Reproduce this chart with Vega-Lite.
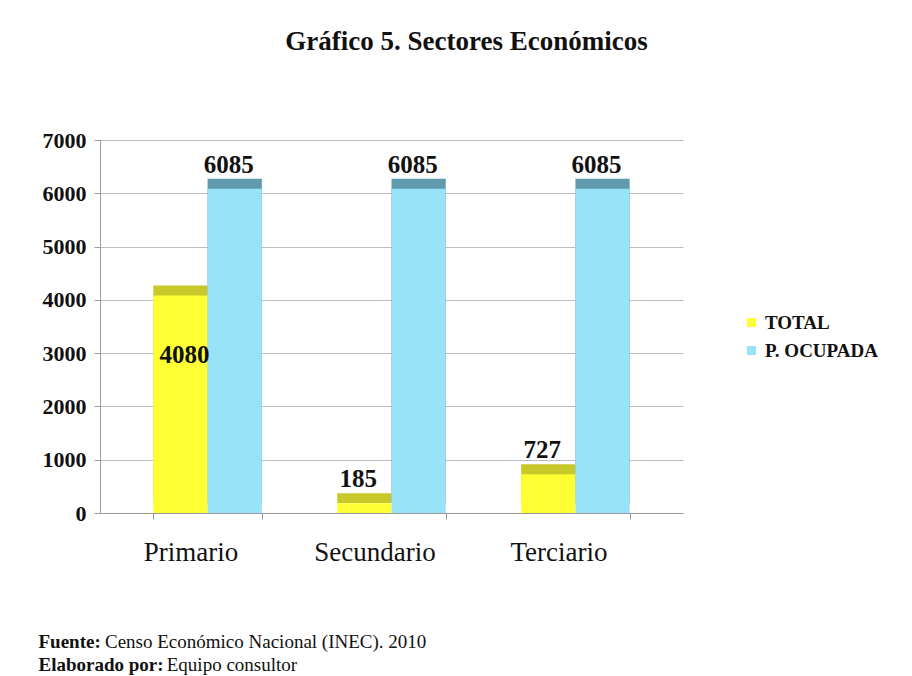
{
  "$schema": "https://vega.github.io/schema/vega-lite/v6.json",
  "width": 583,
  "height": 373,
  "autosize": {"type": "none"},
  "padding": {"left": 100, "top": 140, "right": 229, "bottom": 163},
  "background": "white",
  "config": {
    "view": {"stroke": null},
    "font": "Liberation Serif"
  },
  "title": {
    "text": "Gráfico 5. Sectores Económicos",
    "anchor": "middle",
    "frame": "group",
    "dx": 75,
    "offset": 52,
    "baseline": "alphabetic",
    "font": "Liberation Serif",
    "fontSize": 27,
    "fontWeight": "bold",
    "color": "#111111"
  },
  "data": {
    "values": [
      {"sector": "Primario", "serie": "TOTAL", "valor": 4080},
      {"sector": "Primario", "serie": "P. OCUPADA", "valor": 6085},
      {"sector": "Secundario", "serie": "TOTAL", "valor": 185},
      {"sector": "Secundario", "serie": "P. OCUPADA", "valor": 6085},
      {"sector": "Terciario", "serie": "TOTAL", "valor": 727},
      {"sector": "Terciario", "serie": "P. OCUPADA", "valor": 6085}
    ]
  },
  "encoding": {
    "x": {
      "field": "sector",
      "type": "nominal",
      "sort": ["Primario", "Secundario", "Terciario"],
      "scale": {"paddingInner": 0.41, "paddingOuter": 0.29},
      "axis": {
        "labelAngle": 0,
        "labelFont": "Liberation Serif",
        "labelFontSize": 27,
        "labelColor": "#111111",
        "labelPadding": 20,
        "labelOffset": -17,
        "domainColor": "#9a9a9a",
        "tickColor": "#9a9a9a",
        "tickBand": "extent",
        "tickSize": 6,
        "title": [
          "\u200b\u00a0\u00a0\u00a0\u00a0\u00a0\u00a0\u00a0\u00a0\u00a0\u00a0\u00a0\u00a0\u00a0\u00a0Censo Económico Nacional (INEC). 2010",
          "\u200b\u00a0\u00a0\u00a0\u00a0\u00a0\u00a0\u00a0\u00a0\u00a0\u00a0\u00a0\u00a0\u00a0\u00a0\u00a0\u00a0\u00a0\u00a0\u00a0\u00a0\u00a0\u00a0\u00a0\u00a0\u00a0\u00a0\u00a0Equipo consultor"
        ],
        "titleFont": "Liberation Serif",
        "titleFontSize": 19,
        "titleFontWeight": "normal",
        "titleColor": "#111111",
        "titleAngle": 0,
        "titleAlign": "left",
        "titleAnchor": "start",
        "titleBaseline": "alphabetic",
        "titleLineHeight": 23,
        "titleX": -62,
        "titleY": 134
      }
    },
    "xOffset": {"field": "serie", "sort": ["TOTAL", "P. OCUPADA"]},
    "y": {
      "field": "valor",
      "type": "quantitative",
      "scale": {"domain": [0, 7000]},
      "axis": {
        "values": [0, 1000, 2000, 3000, 4000, 5000, 6000, 7000],
        "format": "d",
        "labelFont": "Liberation Serif",
        "labelFontSize": 22,
        "labelFontWeight": "bold",
        "labelColor": "#111111",
        "labelPadding": 8,
        "domainColor": "#9a9a9a",
        "tickColor": "#9a9a9a",
        "tickSize": 6,
        "gridColor": "#bdbdbd",
        "gridWidth": 1.2,
        "title": ["Fuente:", "Elaborado por:"],
        "titleFont": "Liberation Serif",
        "titleFontSize": 19,
        "titleFontWeight": "bold",
        "titleColor": "#111111",
        "titleAngle": 0,
        "titleAlign": "left",
        "titleAnchor": "start",
        "titleBaseline": "alphabetic",
        "titleLineHeight": 23,
        "titleX": -62,
        "titleY": 507
      }
    }
  },
  "layer": [
    {
      "mark": {"type": "bar", "xOffset": 12, "x2Offset": 12, "yOffset": -10, "y2Offset": -10},
      "encoding": {
        "color": {
          "condition": {"test": "datum.serie === 'TOTAL'", "value": "#c8c82a"},
          "value": "#5f9aad"
        }
      }
    },
    {
      "mark": {"type": "bar"},
      "encoding": {
        "color": {
          "field": "serie",
          "type": "nominal",
          "scale": {"domain": ["TOTAL", "P. OCUPADA"], "range": ["#ffff33", "#99e3f9"]},
          "legend": {
            "title": null,
            "orient": "none",
            "legendX": 642,
            "legendY": 173,
            "symbolType": "square",
            "symbolSize": 81,
            "symbolStrokeWidth": 0,
            "labelFont": "Liberation Serif",
            "labelFontSize": 19,
            "labelFontWeight": "bold",
            "labelColor": "#111111",
            "labelOffset": 4,
            "rowPadding": 8
          }
        }
      }
    },
    {
      "transform": [{"filter": "!(datum.sector === 'Primario' && datum.serie === 'TOTAL')"}],
      "mark": {"type": "text", "baseline": "alphabetic", "dy": -16, "dx": -6, "font": "Liberation Serif", "fontSize": 25, "fontWeight": "bold", "color": "#111111"},
      "encoding": {"text": {"field": "valor", "type": "quantitative"}}
    },
    {
      "transform": [{"filter": "datum.sector === 'Primario' && datum.serie === 'TOTAL'"}],
      "mark": {"type": "text", "baseline": "middle", "dy": 59, "dx": 4, "font": "Liberation Serif", "fontSize": 25, "fontWeight": "bold", "color": "#111111"},
      "encoding": {"text": {"field": "valor", "type": "quantitative"}}
    }
  ]
}
